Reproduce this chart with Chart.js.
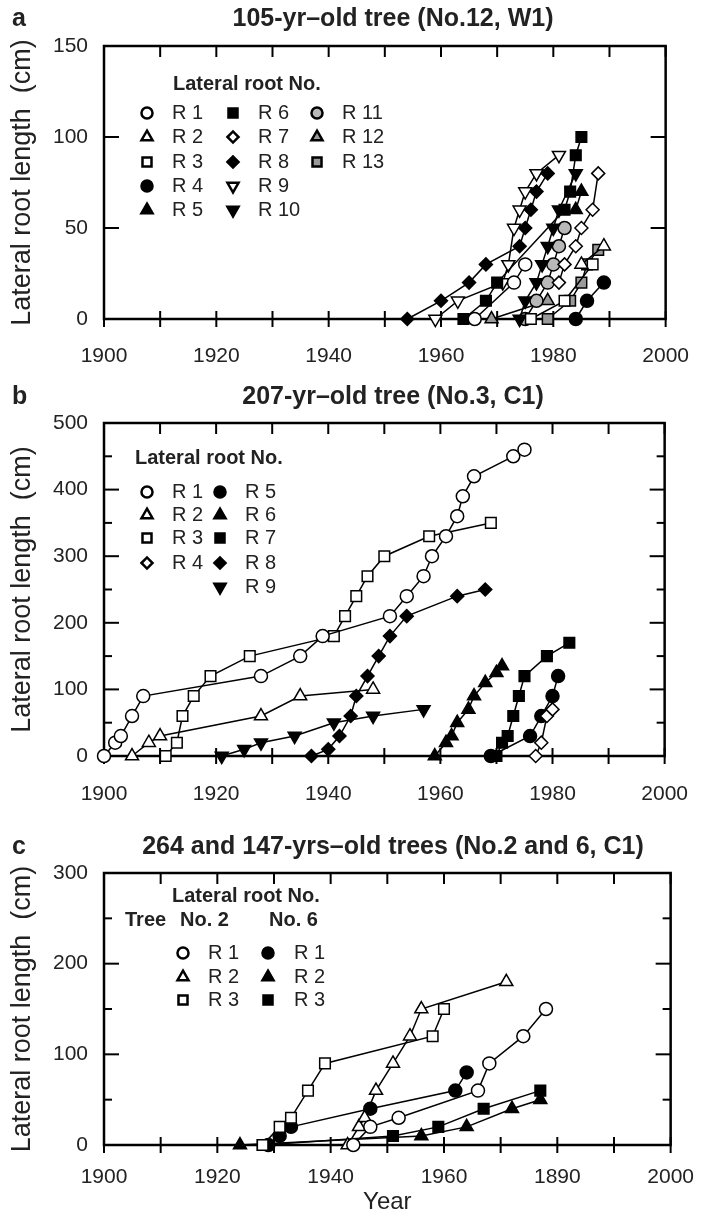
<!DOCTYPE html>
<html>
<head>
<meta charset="utf-8">
<script src="https://cdn.jsdelivr.net/npm/chart.js@4.4.1/dist/chart.umd.min.js"></script>
<style>
body{margin:0;background:#fff;width:706px;height:1217px;position:relative;overflow:hidden}
canvas{position:absolute;left:0}
</style>
</head>
<body>
<canvas id="canvasA" style="top:0" width="706" height="375"></canvas>
<canvas id="canvasB" style="top:375px" width="706" height="435"></canvas>
<canvas id="canvasC" style="top:810px" width="706" height="407"></canvas>
<script>
// x axis (shared)
const yearTicks = [1900,1920,1940,1960,1980,2000];
const xLabelsAB = ['1900','1920','1940','1960','1980','2000'];
const xLabelsC = ['1900','1920','1940','1960','1890','2000'];

// panel a : 105-yr-old tree (No.12, W1)
const aNames = ['R 1','R 2','R 3','R 4','R 5','R 6','R 7','R 8','R 9','R 10','R 11','R 12','R 13'];
const aR1 = [[1966,0],[1973,20],[1975,30]];
const aR2 = [[1985,30],[1989,40]];
const aR3 = [[1976,0],[1982,10],[1987,30]];
const aR4 = [[1984,0],[1986,10],[1989,20]];
const aR5 = [[1984,60],[1985,70]];
const aR6 = [[1964,0],[1968,10],[1970,20],[1982,60],[1983,70],[1984,90],[1985,100]];
const aR7 = [[1981,20],[1982,30],[1984,40],[1985,50],[1987,60],[1988,80]];
const aR8 = [[1954,0],[1960,10],[1965,20],[1968,30],[1974,40],[1975,50],[1976,60],[1977,70],[1979,80]];
const aR9 = [[1959,0],[1963,10],[1971,20],[1972,30],[1973,50],[1974,60],[1975,70],[1977,80],[1981,90]];
const aR10 = [[1974,0],[1975,10],[1977,20],[1978,30],[1979,40],[1980,50],[1981,60],[1984,80]];
const aR11 = [[1975,0],[1977,10],[1979,20],[1980,30],[1981,40],[1982,50]];
const aR12 = [[1969,0],[1979,10]];
const aR13 = [[1979,0],[1983,10],[1985,20],[1986,30],[1988,38]];
const aYTicks = [0,50,100,150];

// panel b : 207-yr-old tree (No.3, C1)
const bNames = ['R 1','R 2','R 3','R 4','R 5','R 6','R 7','R 8','R 9'];
const bR1 = [[1900,0],[1902,20],[1903,30],[1905,60],[1907,90],[1928,120],[1935,150],[1939,180],[1951,210],[1954,240],[1957,270],[1958.5,300],[1961,330],[1963,360],[1964,390],[1966,420],[1973,450],[1975,460]];
const bR2 = [[1905,0],[1908,20],[1910,30],[1928,60],[1935,90],[1948,100]];
const bR3 = [[1911,0],[1913,20],[1914,60],[1916,90],[1919,120],[1926,150],[1941,180],[1943,210],[1945,240],[1947,270],[1950,300],[1958,330],[1969,350]];
const bR4 = [[1977,0],[1978,20],[1979,60],[1980,70]];
const bR5 = [[1969,0],[1976,30],[1978,60],[1980,90],[1981,120]];
const bR6 = [[1959,0],[1961,20],[1962,30],[1963,50],[1965,70],[1966,90],[1968,110],[1970,125],[1971,135]];
const bR7 = [[1970,0],[1971,20],[1972,30],[1973,60],[1974,90],[1975,120],[1979,150],[1983,170]];
const bR8 = [[1937,0],[1940,10],[1942,30],[1944,60],[1945,90],[1947,120],[1949,150],[1951,180],[1954,210],[1963,240],[1968,250]];
const bR9 = [[1921,0],[1925,10],[1928,20],[1934,30],[1941,50],[1948,60],[1957,70]];
const bYTicks = [0,100,200,300,400,500];

// panel c : 264 and 147-yrs-old trees (No.2 and 6, C1)
const cNames = ['R 1','R 2','R 3','R 1','R 2','R 3'];
const cTree2R1 = [[1944,0],[1947,20],[1952,30],[1966,60],[1968,90],[1974,120],[1978,150]];
const cTree2R2 = [[1943,0],[1945,20],[1946,30],[1948,60],[1951,90],[1954,120],[1956,150],[1971,180]];
const cTree2R3 = [[1928,0],[1931,20],[1933,30],[1936,60],[1939,90],[1958,120],[1960,150]];
const cTree6R1 = [[1929,0],[1931,10],[1933,20],[1947,40],[1962,60],[1964,80]];
const cTree6R2 = [[1924,0],[1956,10],[1964,20],[1972,40],[1977,50]];
const cTree6R3 = [[1928,0],[1951,10],[1959,20],[1967,40],[1977,60]];
const cYTicks = [0,100,200,300];

const FONT = '"Liberation Sans", Arial, Helvetica, sans-serif';
const radiusFor = {circle:6.5, triangle:7.5, rect:7.5, rectRot:6.5};

function makeSets(series, names, shapes, fills, turns) {
    return series.map(function (s, i) {
        return {
            label: names[i],
            data: s.map(p => ({x: p[0], y: p[1]})),
            borderColor: '#000',
            borderWidth: 1.5,
            pointStyle: shapes[i],
            pointRotation: turns[i],
            pointRadius: radiusFor[shapes[i]],
            pointBackgroundColor: fills[i],
            pointBorderColor: '#000',
            pointBorderWidth: 1.5,
            showLine: true,
            fill: false,
            tension: 0,
            clip: false
        };
    });
}

function line(ctx, x1, y1, x2, y2) {
    ctx.beginPath(); ctx.moveTo(x1, y1); ctx.lineTo(x2, y2); ctx.stroke();
}

const frameTicks = {
    id: 'frameTicks',
    beforeDatasetsDraw(chart, args, opts) {
        const ctx = chart.ctx, a = chart.chartArea;
        const x = chart.scales.x, y = chart.scales.y;
        ctx.save();
        ctx.strokeStyle = '#000';
        ctx.lineWidth = 2;
        for (let yr = 1900; yr <= 2000; yr += 10) {
            let px = x.getPixelForValue(yr);
            line(ctx, px, a.top, px, a.top + 11);
            line(ctx, px, a.bottom - 8, px, a.bottom + 8);
        }
        opts.major.forEach(function (v) {
            let py = y.getPixelForValue(v);
            line(ctx, a.left, py, a.left + 15, py);
            line(ctx, a.right, py, a.right - 15, py);
        });
        opts.minor.forEach(function (v) {
            let py = y.getPixelForValue(v);
            line(ctx, a.left, py, a.left + 8, py);
            line(ctx, a.right, py, a.right - 8, py);
        });
        ctx.lineWidth = 2.5;
        ctx.strokeRect(a.left, a.top, a.right - a.left, a.bottom - a.top);
        ctx.restore();
    }
};

const heading = {
    id: 'heading',
    afterDraw(chart, args, opts) {
        const ctx = chart.ctx;
        ctx.save();
        ctx.fillStyle = '#222';
        ctx.textBaseline = 'middle';
        ctx.font = 'bold 25px ' + FONT;
        ctx.textAlign = 'left';
        ctx.fillText(opts.letter, 12, opts.y);
        ctx.textAlign = 'center';
        ctx.fillText(opts.text, 393, opts.y);
        ctx.restore();
    }
};

const rootLegend = {
    id: 'rootLegend',
    afterDraw(chart, args, opts) {
        const ctx = chart.ctx;
        ctx.save();
        ctx.fillStyle = '#222';
        ctx.textBaseline = 'middle';
        ctx.textAlign = 'left';
        ctx.font = 'bold 20px ' + FONT;
        opts.heads.forEach(h => ctx.fillText(h[0], h[1], h[2]));
        ctx.font = '20px ' + FONT;
        opts.items.forEach(function (it) {
            const ds = chart.data.datasets[it[0]];
            ctx.fillStyle = ds.pointBackgroundColor;
            ctx.strokeStyle = '#000';
            ctx.lineWidth = 2.5;
            Chart.helpers.drawPoint(ctx, {
                pointStyle: ds.pointStyle,
                rotation: ds.pointRotation,
                radius: ds.pointRadius * 0.85,
                borderWidth: 2.5
            }, it[1], it[3]);
            ctx.fillStyle = '#222';
            ctx.fillText(ds.label, it[2], it[3]);
        });
        ctx.restore();
    }
};

function makeChart(id, sets, yTicks, yMinor, xLabels, top, xHeight, labelPad, head, legend, xTitle) {
    const yMax = yTicks[yTicks.length - 1];
    return new Chart(document.getElementById(id).getContext('2d'), {
        type: 'line',
        data: {datasets: sets},
        plugins: [frameTicks, heading, rootLegend],
        options: {
            responsive: false,
            animation: false,
            devicePixelRatio: 1,
            layout: {padding: {left: 6, right: 24.5, top: top, bottom: 0}},
            plugins: {
                legend: {display: false},
                tooltip: {enabled: false},
                frameTicks: {major: yTicks, minor: yMinor},
                heading: head,
                rootLegend: legend
            },
            scales: {
                x: {
                    type: 'linear', min: 1900, max: 2000,
                    grid: {display: false}, border: {display: false},
                    afterFit: s => { s.height = xHeight; },
                    ticks: {
                        stepSize: 10, autoSkip: false, maxRotation: 0, padding: labelPad,
                        color: '#222', font: {family: FONT, size: 21},
                        callback: v => (yearTicks.indexOf(v) >= 0 ? xLabels[yearTicks.indexOf(v)] : '')
                    },
                    title: {display: !!xTitle, text: xTitle || '', color: '#222',
                        font: {family: FONT, size: 24}, padding: {top: 0, bottom: 0}}
                },
                y: {
                    type: 'linear', min: 0, max: yMax,
                    grid: {display: false}, border: {display: false},
                    afterFit: s => { s.width = 98; },
                    ticks: {
                        stepSize: yTicks[1] - yTicks[0], padding: 8,
                        color: '#222', font: {family: FONT, size: 21}
                    },
                    title: {display: true, text: 'Lateral root length  (cm)', color: '#222',
                        font: {family: FONT, size: 27}, padding: {top: 0, bottom: 0}}
                }
            }
        }
    });
}

const G1 = '#b8b8b8', G2 = '#9a9a9a';

makeChart('canvasA',
    makeSets([aR1,aR2,aR3,aR4,aR5,aR6,aR7,aR8,aR9,aR10,aR11,aR12,aR13], aNames,
        ['circle','triangle','rect','circle','triangle','rect','rectRot','rectRot','triangle','triangle','circle','triangle','rect'],
        ['#fff','#fff','#fff','#000','#000','#000','#fff','#000','#fff','#000',G1,G2,G2],
        [0,0,0,0,0,0,0,0,180,180,0,0,0]),
    aYTicks, [], xLabelsAB, 46, 56, 17,
    {letter: 'a', text: '105-yr\u2013old tree (No.12, W1)', y: 19},
    {heads: [['Lateral root No.', 173, 84]],
     items: [[0,147,172,113],[1,147,172,137],[2,147,172,162],[3,147,172,186],[4,147,172,210],
             [5,233,258,113],[6,233,258,137],[7,233,258,162],[8,233,258,186],[9,233,258,210],
             [10,317,342,113],[11,317,342,137],[12,317,342,162]]});

makeChart('canvasB',
    makeSets([bR1,bR2,bR3,bR4,bR5,bR6,bR7,bR8,bR9], bNames,
        ['circle','triangle','rect','rectRot','circle','triangle','rect','rectRot','triangle'],
        ['#fff','#fff','#fff','#fff','#000','#000','#000','#000','#000'],
        [0,0,0,0,0,0,0,0,180]),
    bYTicks, [50,150,250,350,450], xLabelsAB, 48, 54, 18,
    {letter: 'b', text: '207-yr\u2013old tree (No.3, C1)', y: 22},
    {heads: [['Lateral root No.', 135, 83]],
     items: [[0,147,172,117],[1,147,172,140],[2,147,172,163],[3,147,172,188],
             [4,220,245,117],[5,220,245,140],[6,220,245,163],[7,220,245,188],[8,220,245,212]]});

makeChart('canvasC',
    makeSets([cTree2R1,cTree2R2,cTree2R3,cTree6R1,cTree6R2,cTree6R3], cNames,
        ['circle','triangle','rect','circle','triangle','rect'],
        ['#fff','#fff','#fff','#000','#000','#000'],
        [0,0,0,0,0,0]),
    cYTicks, [50,150,250], xLabelsC, 63, 72, 12,
    {letter: 'c', text: '264 and 147-yrs\u2013old trees (No.2 and 6, C1)', y: 37},
    {heads: [['Lateral root No.', 172, 86], ['Tree', 125, 110], ['No. 2', 180, 110], ['No. 6', 269, 110]],
     items: [[0,183,208,143],[1,183,208,167],[2,183,208,190],
             [3,268,294,143],[4,268,294,167],[5,268,294,190]]},
    'Year');
</script>
</body>
</html>
